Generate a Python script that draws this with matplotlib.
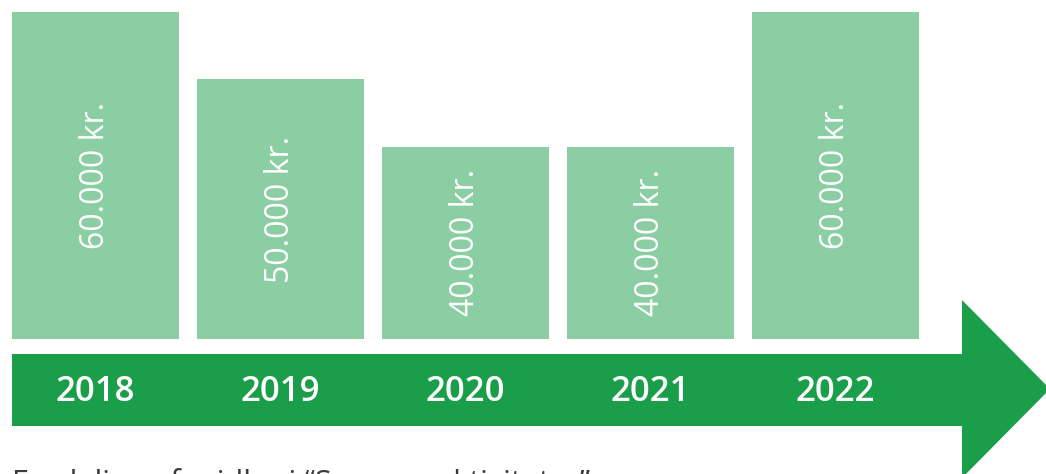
import matplotlib.pyplot as plt
import matplotlib.transforms as mtransforms
from matplotlib.patches import Polygon

years = ["2018", "2019", "2020", "2021", "2022"]
amounts = [60000, 50000, 40000, 40000, 60000]
labels = ["60.000 kr.", "50.000 kr.", "40.000 kr.", "40.000 kr.", "60.000 kr."]
caption = "Fordeling af midler i \u201cSommeraktiviteter\u201d"

bar_color = "#8CCEA4"
arrow_color = "#1A9E4A"
W, H = 1046, 474

fig = plt.figure(figsize=(W / 100, H / 100), dpi=100)

# bars: axes spans from top of figure down to the bar baseline (px 339)
ax = fig.add_axes([0, (H - 339) / H, 1, 339 / H])
x = list(range(len(years)))
ax.bar(x, amounts, width=0.903, color=bar_color, zorder=2)
ylo = 11400
ax.set_xlim(-0.516, 5.138)
ax.set_ylim(ylo, 61780)
ax.axis("off")

for xi, v, lab in zip(x, amounts, labels):
    ax.text(xi, (ylo + v) / 2, lab, rotation=90, ha="center", va="center",
            color="white", fontsize=23, family=["Open Sans", "DejaVu Sans"])

# overlay in pixel coordinates for the arrow and captions
ov = fig.add_axes([0, 0, 1, 1])
ov.set_xlim(0, W)
ov.set_ylim(H, 0)
ov.axis("off")

arrow = Polygon([(12, 354), (962, 354), (962, 300), (1050, 389),
                 (962, 478), (962, 426), (12, 426)],
                closed=True, color=arrow_color, lw=0)
ov.add_patch(arrow)

trans = mtransforms.blended_transform_factory(ax.transData, ov.transData)
for xi, yr in zip(x, years):
    ov.text(xi, 392, yr, transform=trans, ha="center", va="center",
            color="white", fontsize=25, fontweight="semibold",
            family=["Open Sans", "DejaVu Sans"])

# caption is cut by the lower edge, as in the source image
ov.text(12, 468, caption, ha="left", va="top", color="#3a3a3a",
        fontsize=22, family=["Open Sans", "DejaVu Sans"], clip_on=False)

fig.savefig("out.png", dpi=100)
